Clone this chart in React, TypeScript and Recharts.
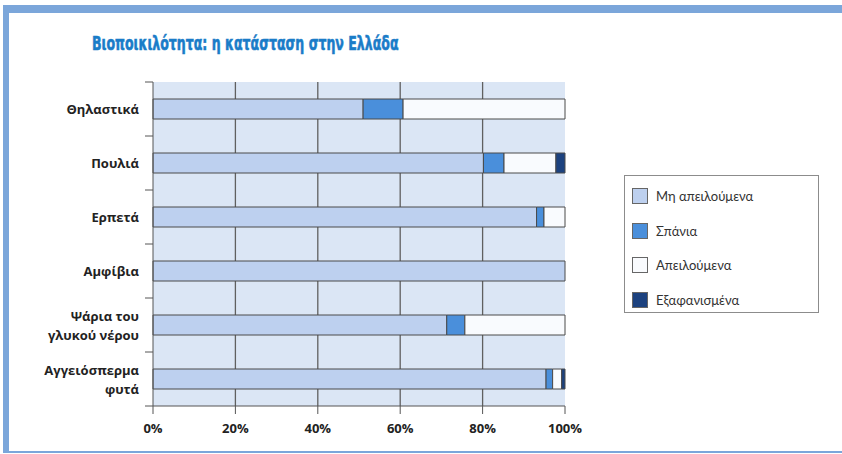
import { BarChart, Bar, XAxis, YAxis, CartesianGrid, Legend } from "recharts";

const categories = ["Θηλαστικά", "Πουλιά", "Ερπετά", "Αμφίβια", "Ψάρια του\nγλυκού νέρου", "Αγγειόσπερμα\nφυτά"];
const notThreatened = [51, 80.2, 93.1, 100, 71.3, 95.4];
const rare = [9.7, 5, 1.8, 0, 4.4, 1.6];
const threatened = [39.3, 12.6, 5.1, 0, 24.3, 2.2];
const extinct = [0, 2.2, 0, 0, 0, 0.8];

const seriesKeys = ["notThreatened", "rare", "threatened", "extinct"];
const seriesNames = ["Μη απειλούμενα", "Σπάνια", "Απειλούμενα", "Εξαφανισμένα"];
const seriesColors = ["#bdd0ef", "#4a8fdb", "#f9fbfe", "#1c427f"];
const xTicks = [0, 20, 40, 60, 80, 100];

const data = categories.map((name, i) => ({
  name,
  notThreatened: notThreatened[i],
  rare: rare[i],
  threatened: threatened[i],
  extinct: extinct[i],
}));

const W = 842;
const H = 454;
const margin = { top: 82, right: 277, bottom: 18, left: 0 };
const X_AXIS_H = 30;
const band = (H - margin.top - margin.bottom - X_AXIS_H) / categories.length;
const labelFont = "'Open Sans', sans-serif";

function CategoryTick(props: any) {
  const { x, y, payload, index } = props;
  const lines = String(payload.value).split("\n");
  const lh = 19;
  const y0 = y - ((lines.length - 1) * lh) / 2;
  return (
    <g>
      {index === 0 && <line x1={x - 8} x2={x} y1={y - band / 2} y2={y - band / 2} stroke="#555" />}
      <line x1={x - 8} x2={x} y1={y + band / 2} y2={y + band / 2} stroke="#555" />
      <text x={x - 14} y={y0} textAnchor="end" dominantBaseline="central" fontFamily={labelFont} fontWeight={700} fontSize={13} fill="#222">
        {lines.map((l, i) => (
          <tspan key={i} x={x - 14} y={y0 + i * lh}>{l}</tspan>
        ))}
      </text>
    </g>
  );
}

function LegendBox(props: any) {
  const payload = [...(props.payload || [])].sort(
    (a: any, b: any) => seriesNames.indexOf(a.value) - seriesNames.indexOf(b.value)
  );
  return (
    <div style={{ width: 195, height: 138, border: "1px solid #8c8c8c", boxSizing: "border-box", background: "#fff", paddingTop: 3 }}>
      {payload.map((p: any) => (
        <div key={p.value} style={{ height: 34.5, display: "flex", alignItems: "center", paddingLeft: 7 }}>
          <span style={{ width: 14, height: 14, background: p.color, border: "1px solid #666", display: "inline-block", marginRight: 8 }} />
          <span style={{ fontFamily: "Lato, sans-serif", fontSize: 13, color: "#333" }}>{p.value}</span>
        </div>
      ))}
    </div>
  );
}

export default function App() {
  return (
    <div style={{ position: "fixed", left: 0, top: 0, width: W, height: H, background: "#fff", overflow: "hidden" }}>
      <div style={{ position: "absolute", left: 3, top: 5, width: W, height: 448, borderTop: "8px solid #7ba6da", borderLeft: "6px solid #7ba6da", borderBottom: "2px solid #7ba6da", boxSizing: "border-box" }} />
      <div style={{ position: "absolute", left: 92, top: 30, width: 286, height: 26, overflow: "visible" }}>
        <div style={{ transform: "scaleX(0.66)", transformOrigin: "left center", fontFamily: "'DejaVu Sans', sans-serif", fontWeight: 900, fontSize: 19, lineHeight: "26px", color: "#1a7cc8", whiteSpace: "nowrap", WebkitTextStroke: "0.6px #1a7cc8" }}>
          Βιοποικιλότητα: η κατάσταση στην Ελλάδα
        </div>
      </div>
      <div style={{ position: "absolute", left: 0, top: 0 }}>
        <BarChart width={W} height={H} data={data} layout="vertical" margin={margin} barSize={20}>
          <CartesianGrid horizontal={false} fill="#dbe6f5" stroke="#606060" strokeWidth={1.3} verticalValues={[20, 40, 60, 80]} />
          <XAxis
            type="number"
            domain={[0, 100]}
            ticks={xTicks}
            height={X_AXIS_H}
            tickFormatter={(v) => `${v}%`}
            tick={{ fontFamily: labelFont, fontWeight: 700, fontSize: 13, fill: "#222" }}
            stroke="#555"
            tickSize={8}
            tickMargin={10}
            interval={0}
          />
          <YAxis type="category" dataKey="name" width={153} tick={<CategoryTick />} tickLine={false} tickSize={0} tickMargin={0} stroke="#555" interval={0} />
          <Legend layout="vertical" align="center" verticalAlign="middle" content={<LegendBox />} wrapperStyle={{ left: 624, top: 175, width: 195 }} />
          {seriesKeys.map((k, i) => (
            <Bar key={k} dataKey={k} name={seriesNames[i]} stackId="a" fill={seriesColors[i]} stroke="#4a4a4a" strokeWidth={1} isAnimationActive={false} />
          ))}
        </BarChart>
      </div>
    </div>
  );
}
